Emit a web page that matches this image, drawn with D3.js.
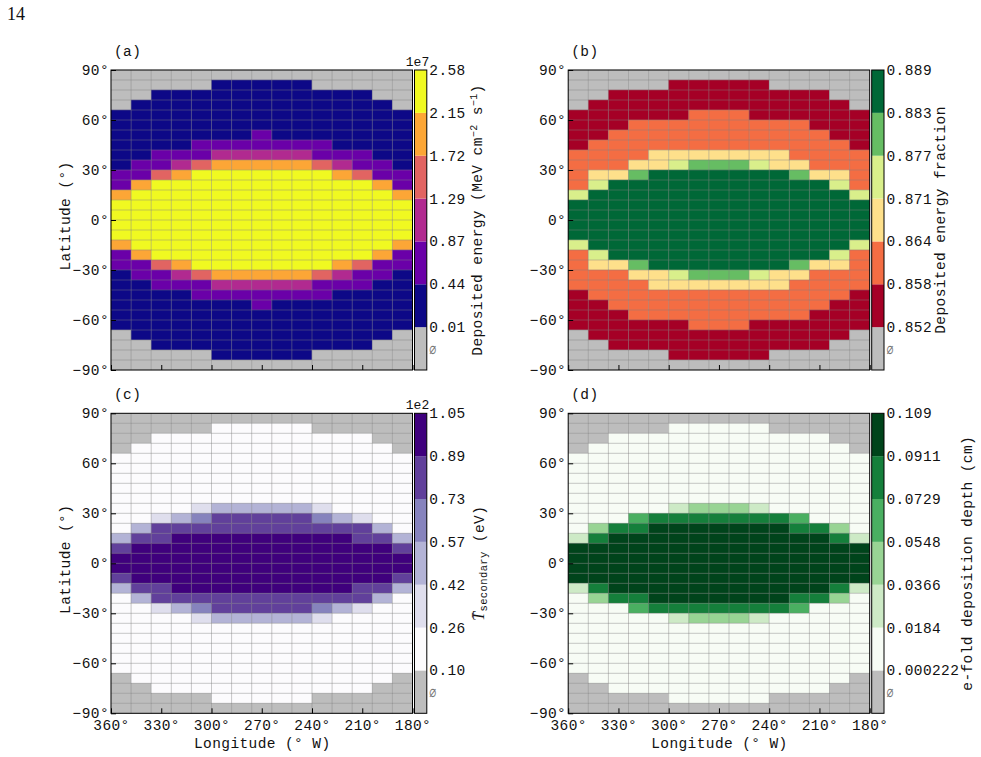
<!DOCTYPE html>
<html>
<head>
<meta charset="utf-8">
<title>Deposition maps</title>
<script src="https://cdn.jsdelivr.net/npm/d3@7/dist/d3.min.js"></script>
<style>
  html, body { margin: 0; padding: 0; background: #fff; }
  svg { display: block; }
  text { fill: #111; }
</style>
</head>
<body>
<script>
// Grid cell centres: 15 longitude columns of 12 degrees, 30 latitude rows of 6 degrees.
const lonCentres = [354, 342, 330, 318, 306, 294, 282, 270, 258, 246, 234, 222, 210, 198, 186];
const latCentres = [87, 81, 75, 69, 63, 57, 51, 45, 39, 33, 27, 21, 15, 9, 3, -3, -9, -15, -21, -27, -33, -39, -45, -51, -57, -63, -69, -75, -81, -87];

const lonTicks = [360, 330, 300, 270, 240, 210, 180];
const latTicks = [90, 60, 30, 0, -30, -60, -90];

const N = null; // cell outside the illuminated disc

// Deposited energy, units of 1e7 MeV cm^-2 s^-1.
const energyValues = [
  [N,N,N,N,N,N,N,N,N,N,N,N,N,N,N],
  [N,N,N,N,N,.22,.22,.22,.22,.22,N,N,N,N,N],
  [N,N,.22,.22,.22,.22,.22,.22,.22,.22,.22,.22,.22,N,N],
  [N,.22,.22,.22,.22,.22,.22,.22,.22,.22,.22,.22,.22,.22,N],
  [.22,.22,.22,.22,.22,.22,.22,.22,.22,.22,.22,.22,.22,.22,.22],
  [.22,.22,.22,.22,.22,.22,.22,.22,.22,.22,.22,.22,.22,.22,.22],
  [.22,.22,.22,.22,.22,.22,.22,.65,.22,.22,.22,.22,.22,.22,.22],
  [.22,.22,.22,.22,.65,.65,.65,.65,.65,.65,.65,.22,.22,.22,.22],
  [.22,.22,.65,.65,.65,1.08,1.08,1.08,1.08,1.08,.65,.65,.65,.22,.22],
  [.22,.65,.65,1.08,1.5,1.93,1.93,1.93,1.93,1.93,1.5,1.08,.65,.65,.22],
  [.65,.65,1.5,1.93,2.36,2.36,2.36,2.36,2.36,2.36,2.36,1.93,1.5,.65,.65],
  [.65,1.93,2.36,2.36,2.36,2.36,2.36,2.36,2.36,2.36,2.36,2.36,2.36,1.93,.65],
  [1.93,2.36,2.36,2.36,2.36,2.36,2.36,2.36,2.36,2.36,2.36,2.36,2.36,2.36,1.93],
  [2.36,2.36,2.36,2.36,2.36,2.36,2.36,2.36,2.36,2.36,2.36,2.36,2.36,2.36,2.36],
  [2.36,2.36,2.36,2.36,2.36,2.36,2.36,2.36,2.36,2.36,2.36,2.36,2.36,2.36,2.36],
  [2.36,2.36,2.36,2.36,2.36,2.36,2.36,2.36,2.36,2.36,2.36,2.36,2.36,2.36,2.36],
  [2.36,2.36,2.36,2.36,2.36,2.36,2.36,2.36,2.36,2.36,2.36,2.36,2.36,2.36,2.36],
  [1.93,2.36,2.36,2.36,2.36,2.36,2.36,2.36,2.36,2.36,2.36,2.36,2.36,2.36,1.93],
  [.65,1.93,2.36,2.36,2.36,2.36,2.36,2.36,2.36,2.36,2.36,2.36,2.36,1.93,.65],
  [.65,.65,1.5,1.93,2.36,2.36,2.36,2.36,2.36,2.36,2.36,1.93,1.5,.65,.65],
  [.22,.65,.65,1.08,1.5,1.93,1.93,1.93,1.93,1.93,1.5,1.08,.65,.65,.22],
  [.22,.22,.65,.65,.65,1.08,1.08,1.08,1.08,1.08,.65,.65,.65,.22,.22],
  [.22,.22,.22,.22,.65,.65,.65,.65,.65,.65,.65,.22,.22,.22,.22],
  [.22,.22,.22,.22,.22,.22,.22,.65,.22,.22,.22,.22,.22,.22,.22],
  [.22,.22,.22,.22,.22,.22,.22,.22,.22,.22,.22,.22,.22,.22,.22],
  [.22,.22,.22,.22,.22,.22,.22,.22,.22,.22,.22,.22,.22,.22,.22],
  [N,.22,.22,.22,.22,.22,.22,.22,.22,.22,.22,.22,.22,.22,N],
  [N,N,.22,.22,.22,.22,.22,.22,.22,.22,.22,.22,.22,N,N],
  [N,N,N,N,N,.22,.22,.22,.22,.22,N,N,N,N,N],
  [N,N,N,N,N,N,N,N,N,N,N,N,N,N,N]
];

// Fraction of the incident energy that is deposited.
const fractionValues = [
  [N,N,N,N,N,N,N,N,N,N,N,N,N,N,N],
  [N,N,N,N,N,.855,.855,.855,.855,.855,N,N,N,N,N],
  [N,N,.855,.855,.855,.855,.855,.855,.855,.855,.855,.855,.855,N,N],
  [N,.855,.855,.855,.855,.855,.855,.855,.855,.855,.855,.855,.855,.855,N],
  [.855,.855,.855,.855,.855,.855,.861,.861,.861,.855,.855,.855,.855,.855,.855],
  [.855,.855,.855,.861,.861,.861,.861,.861,.861,.861,.861,.861,.855,.855,.855],
  [.855,.855,.861,.861,.861,.861,.861,.861,.861,.861,.861,.861,.861,.855,.855],
  [.855,.861,.861,.861,.861,.861,.861,.861,.861,.861,.861,.861,.861,.861,.855],
  [.861,.861,.861,.861,.867,.867,.867,.867,.867,.867,.867,.861,.861,.861,.861],
  [.861,.861,.861,.867,.867,.874,.88,.88,.88,.874,.867,.867,.861,.861,.861],
  [.861,.867,.867,.88,.886,.886,.886,.886,.886,.886,.886,.88,.867,.867,.861],
  [.861,.874,.886,.886,.886,.886,.886,.886,.886,.886,.886,.886,.886,.874,.861],
  [.874,.886,.886,.886,.886,.886,.886,.886,.886,.886,.886,.886,.886,.886,.874],
  [.886,.886,.886,.886,.886,.886,.886,.886,.886,.886,.886,.886,.886,.886,.886],
  [.886,.886,.886,.886,.886,.886,.886,.886,.886,.886,.886,.886,.886,.886,.886],
  [.886,.886,.886,.886,.886,.886,.886,.886,.886,.886,.886,.886,.886,.886,.886],
  [.886,.886,.886,.886,.886,.886,.886,.886,.886,.886,.886,.886,.886,.886,.886],
  [.874,.886,.886,.886,.886,.886,.886,.886,.886,.886,.886,.886,.886,.886,.874],
  [.861,.874,.886,.886,.886,.886,.886,.886,.886,.886,.886,.886,.886,.874,.861],
  [.861,.867,.867,.88,.886,.886,.886,.886,.886,.886,.886,.88,.867,.867,.861],
  [.861,.861,.861,.867,.867,.874,.88,.88,.88,.874,.867,.867,.861,.861,.861],
  [.861,.861,.861,.861,.867,.867,.867,.867,.867,.867,.867,.861,.861,.861,.861],
  [.855,.861,.861,.861,.861,.861,.861,.861,.861,.861,.861,.861,.861,.861,.855],
  [.855,.855,.861,.861,.861,.861,.861,.861,.861,.861,.861,.861,.861,.855,.855],
  [.855,.855,.855,.861,.861,.861,.861,.861,.861,.861,.861,.861,.855,.855,.855],
  [.855,.855,.855,.855,.855,.855,.861,.861,.861,.855,.855,.855,.855,.855,.855],
  [N,.855,.855,.855,.855,.855,.855,.855,.855,.855,.855,.855,.855,.855,N],
  [N,N,.855,.855,.855,.855,.855,.855,.855,.855,.855,.855,.855,N,N],
  [N,N,N,N,N,.855,.855,.855,.855,.855,N,N,N,N,N],
  [N,N,N,N,N,N,N,N,N,N,N,N,N,N,N]
];

// Mean secondary electron energy, units of 1e2 eV.
const secondaryValues = [
  [N,N,N,N,N,N,N,N,N,N,N,N,N,N,N],
  [N,N,N,N,N,.18,.18,.18,.18,.18,N,N,N,N,N],
  [N,N,.18,.18,.18,.18,.18,.18,.18,.18,.18,.18,.18,N,N],
  [N,.18,.18,.18,.18,.18,.18,.18,.18,.18,.18,.18,.18,.18,N],
  [.18,.18,.18,.18,.18,.18,.18,.18,.18,.18,.18,.18,.18,.18,.18],
  [.18,.18,.18,.18,.18,.18,.18,.18,.18,.18,.18,.18,.18,.18,.18],
  [.18,.18,.18,.18,.18,.18,.18,.18,.18,.18,.18,.18,.18,.18,.18],
  [.18,.18,.18,.18,.18,.18,.18,.18,.18,.18,.18,.18,.18,.18,.18],
  [.18,.18,.18,.18,.18,.18,.18,.18,.18,.18,.18,.18,.18,.18,.18],
  [.18,.18,.18,.18,.34,.5,.5,.5,.5,.5,.34,.18,.18,.18,.18],
  [.18,.18,.34,.5,.65,.81,.81,.81,.81,.81,.65,.5,.34,.18,.18],
  [.18,.5,.81,.81,.81,.81,.81,.81,.81,.81,.81,.81,.81,.5,.18],
  [.5,.81,.81,.97,.97,.97,.97,.97,.97,.97,.97,.97,.81,.81,.5],
  [.81,.97,.97,.97,.97,.97,.97,.97,.97,.97,.97,.97,.97,.97,.81],
  [.97,.97,.97,.97,.97,.97,.97,.97,.97,.97,.97,.97,.97,.97,.97],
  [.97,.97,.97,.97,.97,.97,.97,.97,.97,.97,.97,.97,.97,.97,.97],
  [.81,.97,.97,.97,.97,.97,.97,.97,.97,.97,.97,.97,.97,.97,.81],
  [.5,.81,.81,.97,.97,.97,.97,.97,.97,.97,.97,.97,.81,.81,.5],
  [.18,.5,.81,.81,.81,.81,.81,.81,.81,.81,.81,.81,.81,.5,.18],
  [.18,.18,.34,.5,.65,.81,.81,.81,.81,.81,.65,.5,.34,.18,.18],
  [.18,.18,.18,.18,.34,.5,.5,.5,.5,.5,.34,.18,.18,.18,.18],
  [.18,.18,.18,.18,.18,.18,.18,.18,.18,.18,.18,.18,.18,.18,.18],
  [.18,.18,.18,.18,.18,.18,.18,.18,.18,.18,.18,.18,.18,.18,.18],
  [.18,.18,.18,.18,.18,.18,.18,.18,.18,.18,.18,.18,.18,.18,.18],
  [.18,.18,.18,.18,.18,.18,.18,.18,.18,.18,.18,.18,.18,.18,.18],
  [.18,.18,.18,.18,.18,.18,.18,.18,.18,.18,.18,.18,.18,.18,.18],
  [N,.18,.18,.18,.18,.18,.18,.18,.18,.18,.18,.18,.18,.18,N],
  [N,N,.18,.18,.18,.18,.18,.18,.18,.18,.18,.18,.18,N,N],
  [N,N,N,N,N,.18,.18,.18,.18,.18,N,N,N,N,N],
  [N,N,N,N,N,N,N,N,N,N,N,N,N,N,N]
];

// e-fold deposition depth in cm.
const depthValues = [
  [N,N,N,N,N,N,N,N,N,N,N,N,N,N,N],
  [N,N,N,N,N,.009,.009,.009,.009,.009,N,N,N,N,N],
  [N,N,.009,.009,.009,.009,.009,.009,.009,.009,.009,.009,.009,N,N],
  [N,.009,.009,.009,.009,.009,.009,.009,.009,.009,.009,.009,.009,.009,N],
  [.009,.009,.009,.009,.009,.009,.009,.009,.009,.009,.009,.009,.009,.009,.009],
  [.009,.009,.009,.009,.009,.009,.009,.009,.009,.009,.009,.009,.009,.009,.009],
  [.009,.009,.009,.009,.009,.009,.009,.009,.009,.009,.009,.009,.009,.009,.009],
  [.009,.009,.009,.009,.009,.009,.009,.009,.009,.009,.009,.009,.009,.009,.009],
  [.009,.009,.009,.009,.009,.009,.009,.009,.009,.009,.009,.009,.009,.009,.009],
  [.009,.009,.009,.009,.009,.027,.045,.045,.045,.027,.009,.009,.009,.009,.009],
  [.009,.009,.009,.064,.082,.082,.082,.082,.082,.082,.082,.064,.009,.009,.009],
  [.009,.045,.082,.082,.1,.1,.1,.1,.1,.1,.1,.082,.082,.045,.009],
  [.027,.082,.1,.1,.1,.1,.1,.1,.1,.1,.1,.1,.1,.082,.027],
  [.1,.1,.1,.1,.1,.1,.1,.1,.1,.1,.1,.1,.1,.1,.1],
  [.1,.1,.1,.1,.1,.1,.1,.1,.1,.1,.1,.1,.1,.1,.1],
  [.1,.1,.1,.1,.1,.1,.1,.1,.1,.1,.1,.1,.1,.1,.1],
  [.1,.1,.1,.1,.1,.1,.1,.1,.1,.1,.1,.1,.1,.1,.1],
  [.027,.082,.1,.1,.1,.1,.1,.1,.1,.1,.1,.1,.1,.082,.027],
  [.009,.045,.082,.082,.1,.1,.1,.1,.1,.1,.1,.082,.082,.045,.009],
  [.009,.009,.009,.064,.082,.082,.082,.082,.082,.082,.082,.064,.009,.009,.009],
  [.009,.009,.009,.009,.009,.027,.045,.045,.045,.027,.009,.009,.009,.009,.009],
  [.009,.009,.009,.009,.009,.009,.009,.009,.009,.009,.009,.009,.009,.009,.009],
  [.009,.009,.009,.009,.009,.009,.009,.009,.009,.009,.009,.009,.009,.009,.009],
  [.009,.009,.009,.009,.009,.009,.009,.009,.009,.009,.009,.009,.009,.009,.009],
  [.009,.009,.009,.009,.009,.009,.009,.009,.009,.009,.009,.009,.009,.009,.009],
  [.009,.009,.009,.009,.009,.009,.009,.009,.009,.009,.009,.009,.009,.009,.009],
  [N,.009,.009,.009,.009,.009,.009,.009,.009,.009,.009,.009,.009,.009,N],
  [N,N,.009,.009,.009,.009,.009,.009,.009,.009,.009,.009,.009,N,N],
  [N,N,N,N,N,.009,.009,.009,.009,.009,N,N,N,N,N],
  [N,N,N,N,N,N,N,N,N,N,N,N,N,N,N]
];

// Colour bar boundaries, lowest first, written as they are printed.
const energyTicks = ["0.01", "0.44", "0.87", "1.29", "1.72", "2.15", "2.58"];
const fractionTicks = ["0.852", "0.858", "0.864", "0.871", "0.877", "0.883", "0.889"];
const secondaryTicks = ["0.10", "0.26", "0.42", "0.57", "0.73", "0.89", "1.05"];
const depthTicks = ["0.000222", "0.0184", "0.0366", "0.0548", "0.0729", "0.0911", "0.109"];

const energyColors = ["#0d0887", "#6a00a8", "#b12a90", "#e16462", "#fca636", "#f0f921"];
const fractionColors = ["#a50026", "#f46d43", "#fee08b", "#d9ef8b", "#66bd63", "#006837"];
const secondaryColors = ["#fcfbfd", "#dfdeed", "#b3b3d6", "#8683bd", "#61409b", "#3f007d"];
const depthColors = ["#f7fcf5", "#cdeac6", "#98d494", "#4aaf61", "#157f3b", "#00441b"];
const emptyColor = "#bdbdbd";

const MONO = "'Liberation Mono', monospace";
const LABEL_SIZE = 14.5;
const width = 981, height = 757;

const svg = d3.select("body").append("svg")
  .attr("width", width).attr("height", height)
  .attr("viewBox", [0, 0, width, height]);

const panels = [
  { tag: "(a)", left: 111, top: 70, values: energyValues, ticks: energyTicks, colors: energyColors, exponent: "1e7", lonLabels: false, title: "energy", titleX: 478 },
  { tag: "(b)", left: 568.2, top: 70, values: fractionValues, ticks: fractionTicks, colors: fractionColors, lonLabels: false, title: "fraction", titleX: 941 },
  { tag: "(c)", left: 111, top: 413.3, values: secondaryValues, ticks: secondaryTicks, colors: secondaryColors, exponent: "1e2", lonLabels: true, title: "secondary", titleX: 480 },
  { tag: "(d)", left: 568.2, top: 413.3, values: depthValues, ticks: depthTicks, colors: depthColors, lonLabels: true, title: "depth", titleX: 968 }
];

const plotW = 301.5, plotH = 300;
const barGap = 2, barW = 12.3;

panels.forEach((p, idx) => drawPanel(p, idx));

svg.append("text").attr("x", 7).attr("y", 20)
  .attr("font-family", "'Liberation Serif', serif").attr("font-size", 18)
  .text("14");

function monoText(sel, size = LABEL_SIZE) {
  return sel.attr("font-family", MONO).attr("font-size", size).attr("letter-spacing", 0.4);
}

function drawPanel(p, idx) {
  const g = svg.append("g").attr("transform", `translate(${p.left},${p.top})`);
  const x = d3.scaleLinear().domain([360, 180]).range([0, plotW]);
  const y = d3.scaleLinear().domain([90, -90]).range([0, plotH]);

  const thresholds = p.ticks.slice(1, -1).map(Number);
  const color = d3.scaleThreshold().domain(thresholds).range(p.colors);

  const cells = p.values.flatMap((row, r) =>
    row.map((v, c) => ({ v, lon: lonCentres[c], lat: latCentres[r] })));

  g.append("g").selectAll("rect").data(cells).join("rect")
    .attr("x", d => x(d.lon + 6))
    .attr("y", d => y(d.lat + 3))
    .attr("width", d => x(d.lon - 6) - x(d.lon + 6))
    .attr("height", d => y(d.lat - 3) - y(d.lat + 3))
    .attr("fill", d => d.v === null ? emptyColor : color(d.v))
    .attr("stroke", d => d.v === null ? emptyColor : color(d.v))
    .attr("stroke-width", 0.3);

  // Cell boundaries lie over the filled mesh.
  const grid = g.append("g").attr("stroke", "#808080").attr("stroke-opacity", 0.55).attr("stroke-width", 0.8);
  grid.selectAll("line.v").data(lonCentres.slice(1)).join("line").attr("class", "v")
    .attr("x1", d => x(d + 6)).attr("x2", d => x(d + 6)).attr("y1", 0).attr("y2", plotH);
  grid.selectAll("line.h").data(latCentres.slice(1)).join("line").attr("class", "h")
    .attr("y1", d => y(d + 3)).attr("y2", d => y(d + 3)).attr("x1", 0).attr("x2", plotW);

  // Inward ticks on the left and bottom edges.
  const yAxis = d3.axisLeft(y).tickValues(latTicks).tickSizeInner(-5).tickSizeOuter(0).tickPadding(2)
    .tickFormat(d => (d < 0 ? "\u2212" + (-d) : d) + "\u00b0");
  const yG = g.append("g").call(yAxis);
  yG.select(".domain").remove();
  yG.selectAll("line").attr("stroke", "#000");
  monoText(yG.selectAll("text")).attr("fill", "#111");

  const xAxis = d3.axisBottom(x).tickValues(lonTicks).tickSizeInner(-5).tickSizeOuter(0).tickPadding(6.5)
    .tickFormat(d => p.lonLabels ? d + "\u00b0" : "");
  const xG = g.append("g").attr("transform", `translate(0,${plotH})`).call(xAxis);
  xG.select(".domain").remove();
  xG.selectAll("line").attr("stroke", "#000");
  monoText(xG.selectAll("text")).attr("fill", "#111");

  g.append("rect").attr("width", plotW).attr("height", plotH)
    .attr("fill", "none").attr("stroke", "#000").attr("stroke-width", 1);

  monoText(g.append("text")).attr("x", 3).attr("y", -14).text(p.tag);

  // Equal-height colour bar with the empty-cell swatch underneath.
  const barX = plotW + barGap;
  const barY = d3.scalePoint().domain(d3.range(8)).range([plotH, 0]);
  const bar = g.append("g").attr("transform", `translate(${barX},0)`);
  bar.append("rect").attr("y", barY(1)).attr("width", barW).attr("height", barY(0) - barY(1)).attr("fill", emptyColor);
  bar.selectAll("rect.step").data(p.colors).join("rect").attr("class", "step")
    .attr("y", (d, i) => barY(i + 2))
    .attr("width", barW)
    .attr("height", (d, i) => barY(i + 1) - barY(i + 2))
    .attr("fill", d => d);
  bar.append("rect").attr("width", barW).attr("height", plotH)
    .attr("fill", "none").attr("stroke", "#000").attr("stroke-width", 1);

  const labels = bar.selectAll("text.tick").data(p.ticks).join("text").attr("class", "tick")
    .attr("x", barW + 2.5).attr("y", (d, i) => barY(i + 1)).attr("dy", "0.34em").text(d => d);
  monoText(labels);

  // Swatch label for cells with no data.
  bar.append("text")
    .attr("transform", `translate(${barW + 2.5},${(barY(0) + barY(1)) / 2 + 6}) scale(0.72,1)`)
    .attr("font-family", "'DejaVu Sans Mono', monospace").attr("font-size", 16)
    .style("fill", "#777").text("\u2205");

  if (p.exponent) {
    bar.append("text").attr("font-family", MONO).attr("font-size", 13)
      .attr("x", -8.7).attr("y", -4).text(p.exponent);
  }

  // Axis titles.
  if (idx % 2 === 0) {
    monoText(g.append("text"))
      .attr("transform", `translate(-41,${plotH / 2 - 4}) rotate(-90)`)
      .attr("text-anchor", "middle").text("Latitude (\u00b0)");
  }
  if (p.lonLabels) {
    monoText(g.append("text"))
      .attr("x", plotW / 2 + 0.5).attr("y", plotH + 35)
      .attr("text-anchor", "middle").text("Longitude (\u00b0 W)");
  }
  drawBarTitle(g, p);
}

function drawBarTitle(g, p) {
  const t = monoText(g.append("text"))
    .attr("transform", `translate(${p.titleX + 4 - p.left},${plotH / 2}) rotate(-90)`)
    .attr("text-anchor", "middle");
  if (p.title === "energy") {
    t.append("tspan").text("Deposited energy (MeV cm");
    t.append("tspan").attr("dy", -5).attr("font-size", 10).text("\u22122");
    t.append("tspan").attr("dy", 5).text(" s");
    t.append("tspan").attr("dy", -5).attr("font-size", 10).text("\u22121");
    t.append("tspan").attr("dy", 5).text(")");
  } else if (p.title === "fraction") {
    t.text("Deposited energy fraction");
  } else if (p.title === "depth") {
    t.text("e-fold deposition depth (cm)");
  } else {
    t.append("tspan").attr("font-family", "'Liberation Serif', serif").attr("font-style", "italic").attr("font-size", 16).text("T\u0304");
    t.append("tspan").attr("dy", 3).attr("font-size", 10.5).text("secondary");
    t.append("tspan").attr("dy", -3).text(" (eV)");
  }
}
</script>
</body>
</html>
